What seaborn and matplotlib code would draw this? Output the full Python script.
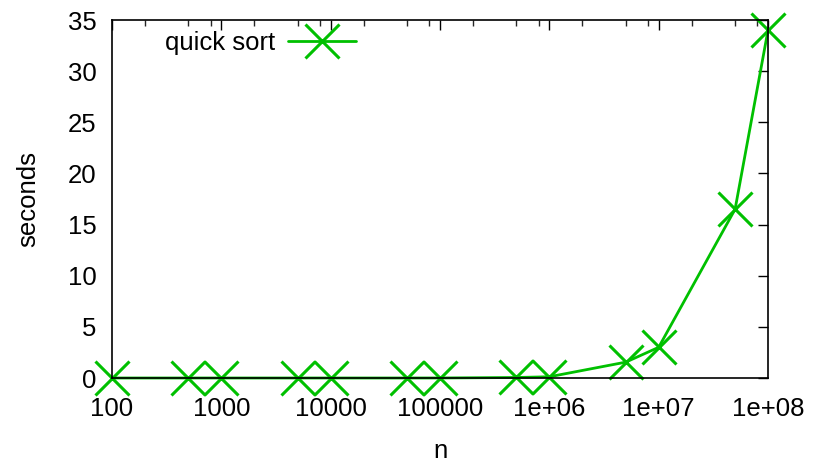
import numpy as np
import pandas as pd
import matplotlib
matplotlib.use("Agg")
import matplotlib.pyplot as plt
import matplotlib.ticker as mticker
import seaborn as sns

n_values = [100, 500, 1000, 5000, 10000, 50000, 100000, 500000,
            1000000, 5000000, 10000000, 50000000, 100000000]
seconds = [0.0, 0.0, 0.0, 0.0, 0.0, 0.0, 0.002, 0.05,
           0.12, 1.55, 3.0, 16.5, 34.0]
xtick_vals = [100, 1000, 10000, 100000, 1000000, 10000000, 100000000]
xtick_labels = ["100", "1000", "10000", "100000", "1e+06", "1e+07", "1e+08"]

sns.set_style("white")
plt.rcParams["font.family"] = ["Liberation Sans", "DejaVu Sans"]
plt.rcParams["text.color"] = "black"
plt.rcParams["axes.labelcolor"] = "black"
fs = 18.5

df = pd.DataFrame({"n": n_values, "seconds": seconds})

fig = plt.figure(figsize=(8.14, 4.67), dpi=100)
ax = fig.add_axes([112 / 814, 1 - 378 / 467, 656 / 814, 358 / 467])
sns.lineplot(data=df, x="n", y="seconds", ax=ax, color="#00c000",
             linewidth=2, marker="x", markersize=25, markeredgewidth=2.2,
             markeredgecolor="#00c000", label="quick sort", clip_on=False)
ax.set_xscale("log")
ax.set_xlim(100, 1e8)
ax.set_ylim(0, 35)
ax.set_xticks(xtick_vals)
ax.set_xticklabels(xtick_labels)
ax.xaxis.set_minor_locator(mticker.LogLocator(base=10, subs=[2, 5, 8]))
ax.xaxis.set_minor_formatter(mticker.NullFormatter())
ax.set_yticks(range(0, 36, 5))
ax.tick_params(which="major", direction="in", length=7, width=1,
               top=True, right=True, labelsize=fs, colors="black")
ax.tick_params(axis="x", which="major", pad=14)
ax.tick_params(axis="y", which="major", pad=11)
ax.tick_params(which="minor", direction="in", length=4, width=1,
               top=True, right=True)
for s in ax.spines.values():
    s.set_color("black")
    s.set_linewidth(1.2)
ax.set_xlabel("n", fontsize=fs, labelpad=13)
ax.set_ylabel("seconds", fontsize=fs, labelpad=20)
leg = ax.legend(loc="upper left", frameon=False, markerfirst=False,
                handlelength=2.65, handletextpad=0.5, fontsize=fs,
                bbox_to_anchor=(0.045, 1.035))
ax.grid(False)
fig.savefig("out.png", dpi=100)
